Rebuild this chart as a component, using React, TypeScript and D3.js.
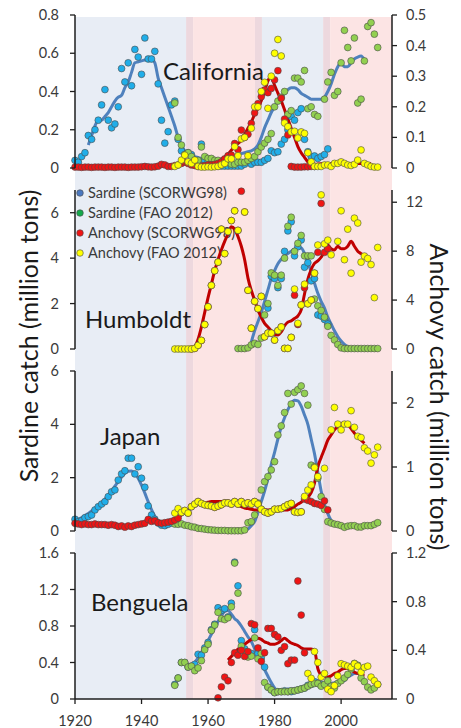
import React from "react";
import * as d3 from "d3";

// ---------- axis / regime data ----------
const YEAR_MIN = 1920;
const YEAR_MAX = 2015.3;
const xTickYears = [1920, 1940, 1960, 1980, 2000];
// [start, end, kind]
const regimeBands: [number, number, string][] = [
  [1920, 1953.4, "blue"],
  [1953.4, 1955.5, "mix"],
  [1955.5, 1974.1, "pink"],
  [1974.1, 1976.2, "mix"],
  [1976.2, 1994.6, "blue"],
  [1994.6, 1996.7, "mix"],
  [1996.7, 2015.3, "pink"],
];
const legendLabels = ["Sardine (SCORWG98)", "Sardine (FAO 2012)", "Anchovy (SCORWG98)", "Anchovy (FAO 2012)"];

// ---------- California ----------
const calSarScorStart = 1920;
const calSarScor = [
  0.04, 0.03, 0.06, 0.08, 0.17, 0.15, 0.2, 0.25, 0.33, 0.41,
  0.25, 0.21, 0.23, 0.32, 0.52, 0.45, 0.55, 0.43, 0.62, 0.58,
  0.49, 0.68, 0.57, 0.57, 0.61, 0.44, 0.25, 0.13, 0.19, 0.33,
  0.35, 0.15, 0.09, 0.07, 0.08, 0.07, 0.03, 0.03, 0.125, 0.04,
  0.03, 0.02, 0.02, 0.01, 0.01, 0.01, 0.01, 0.01, 0.01, 0.01,
  0.01, 0.02, 0.04, 0.02, 0.03, 0.03, 0.03, 0.04, 0.05, 0.09,
  0.08, 0.085, 0.125, 0.15, 0.2, 0.27, 0.25, 0.29, 0.31, 0.15,
  0.085, 0.06, 0.063, 0.05, 0.06, 0.07, 0.1,
];
const calSarFaoStart = 1950;
const calSarFao = [
  0.34, 0.16, 0.12, 0.07, 0.08, 0.06, 0.04, 0.04, 0.11, 0.06,
  0.05, 0.05, 0.04, 0.04, 0.03, 0.03, 0.03, 0.02, 0.02, 0.03,
  0.03, 0.03, 0.04, 0.05, 0.06, 0.085, 0.11, 0.13, 0.15, 0.18,
  0.32, 0.35, 0.37, 0.4, 0.28, 0.3, 0.47, 0.47, 0.45, 0.51,
  0.31, 0.32, 0.28, 0.27, null, 0.36, 0.45, 0.5, 0.38, 0.4,
  0.55, 0.72, 0.63, 0.56, 0.68, 0.34, 0.36, 0.56, 0.74, 0.76, 0.7, 0.63,
];
const calAncScorStart = 1920;
const calAncScor = [
  0.003, 0.003, 0.002, 0.003, 0.003, 0.002, 0.003, 0.003, 0.003, 0.002,
  0.003, 0.003, 0.002, 0.003, 0.003, 0.003, 0.002, 0.003, 0.003, 0.003,
  0.004, 0.005, 0.004, 0.003, 0.004, 0.006, 0.012, 0.01, 0.005, 0.005,
  0.008, 0.01, 0.015, 0.02, 0.015, 0.01, 0.008, 0.005, 0.006, 0.008,
  0.01, 0.01, 0.012, 0.015, 0.02, 0.03, 0.04, 0.042, 0.08, 0.06,
  0.124, 0.1, 0.11, 0.146, 0.18, 0.21, 0.233, 0.255, 0.246, 0.26,
  0.288, 0.318, 0.228, 0.16, 0.108, 0.005, 0.003, 0.003, 0.003, 0.004,
  0.004, 0.005, 0.005,
];
const calAncFaoStart = 1950;
const calAncFao = [
  0.005, 0.01, 0.026, 0.042, 0.02, 0.015, 0.026, 0.005, 0.003, 0.003,
  0.004, 0.003, 0.004, 0.005, 0.01, 0.015, 0.03, 0.03, 0.07, 0.04,
  0.095, 0.1, 0.04, 0.13, 0.2, 0.2, 0.25, 0.28, 0.195, 0.3,
  0.375, 0.42, 0.366, 0.147, 0.135, 0.118, 0.12, 0.098, 0.118, 0.113,
  0.05, 0.02, 0.005, 0.005, 0.005, 0.01, 0.01, 0.005, 0.015, 0.015,
  0.02, 0.015, 0.01, 0.008, 0.012, 0.026, 0.059, 0.015, 0.01, 0.005, 0.003, 0.003,
];
const calSarLineStart = 1924;
const calSarLine = [
  0.12, 0.17, 0.22, 0.25, 0.25, 0.27,
  0.29, 0.32, 0.35, 0.37, 0.38, 0.42, 0.45, 0.5, 0.55, 0.555,
  0.56, 0.565, 0.57, 0.57, 0.55, 0.47, 0.42, 0.37, 0.32, 0.27,
  0.22, 0.16, 0.12, 0.09, 0.07, 0.065, 0.06, 0.055, 0.05, 0.05,
  0.045, 0.04, 0.04, 0.04, 0.045, 0.05, 0.055, 0.06, 0.065, 0.07,
  0.075, 0.08, 0.085, 0.09, 0.1, 0.12, 0.16, 0.21, 0.25, 0.29,
  0.32, 0.35, 0.37, 0.39, 0.41, 0.42, 0.42, 0.41, 0.39, 0.38,
  0.37, 0.36, 0.36, 0.36, 0.36, 0.37, 0.4, 0.44, 0.49, 0.53,
  0.55, 0.53, 0.53, 0.55, 0.57, 0.58, 0.585, 0.565,
];
const calAncLineStart = 1920;
const calAncLine = [
  0.002, 0.002, 0.002, 0.002, 0.002, 0.002, 0.002, 0.002, 0.002, 0.002,
  0.002, 0.002, 0.002, 0.002, 0.002, 0.002, 0.002, 0.002, 0.002, 0.002,
  0.002, 0.002, 0.002, 0.002, 0.002, 0.003, 0.005, 0.006, 0.006, 0.006,
  0.008, 0.01, 0.012, 0.013, 0.013, 0.012, 0.01, 0.01, 0.01, 0.011,
  0.013, 0.016, 0.02, 0.025, 0.03, 0.035, 0.045, 0.058, 0.07, 0.08,
  0.09, 0.11, 0.13, 0.15, 0.175, 0.195, 0.22, 0.25, 0.285, 0.297,
  0.27, 0.245, 0.22, 0.19, 0.16, 0.13, 0.1, 0.07, 0.05, 0.035,
  0.02, 0.014, 0.012, 0.013, 0.014, 0.015, 0.015, 0.015, 0.015, 0.015,
  0.015, 0.015, 0.015, 0.015, 0.015, 0.015, 0.015, 0.015, 0.015, 0.015,
];

// ---------- Humboldt ----------
const humSarScorStart = 1978;
const humSarScor = [1.8, 3.2, 3.1, 2.7, 3.1, 4.3, 5.2, 5.6, 4.1, 4.5, 4.8, 3.6, 3.8, 3.0, 3.1, 1.5, 1.45, 1.3, 1.1];
const humSarFaoStart = 1969;
const humSarFao = [
  0.02, 0.02, 0.02, 0.05, 0.18, 0.25, 0.2, 0.48, 1.5, 2.0,
  3.35, 3.25, 2.8, 3.25, 4.0, 5.4, 5.8, 4.3, 4.65, 5.0,
  4.1, 4.1, 4.1, 2.2, 1.9, 1.7, 1.4, 1.0, 0.6, 0.4,
  0.2, 0.05, 0.02, 0.02, 0.02, 0.02, 0.02, 0.02, 0.02, 0.02, 0.02, 0.02, 0.02,
];
const humAncScorStart = 1955;
const humAncScor = [
  0, 0.05, 0.3, 0.7, 2.0, 3.45, 5.2, 6.4, 7.1, 9.8,
  7.8, 9.6, 10.5, 11.3, 9.7, 12.9, 11.2, 4.8, 1.7, 3.9,
  3.3, 4.3, 1.0, 1.3, 1.3, 0.73, 1.5, 1.8, 0.05, 0.05,
  0.95, 4.4, 2.0, 3.6, 5.0, 3.7, 4.0, 6.2, 7.9, 11.9, 7.9, 8.2,
];
const humAncFaoStart = 1950;
const humAncFao = [
  0, 0, 0, 0, 0, 0, 0.05, 0.3, 0.7, 2.0,
  3.45, 5.2, 6.4, 7.1, 9.8, 7.8, 9.6, 10.5, 11.3, 9.7,
  null, 11.2, 4.8, 1.7, 3.9, 3.3, 4.3, 1.0, 1.3, 1.3,
  0.73, 1.5, 1.8, 0.05, 0.05, 0.95, 4.9, 2.1, 3.6, 5.3,
  3.7, 4.0, 6.2, 8.5, 12.6, 8.6, 8.9, 7.7, null, 8.8,
  11.3, 7.3, 9.8, 6.2, 10.7, 10.3, 7.1, 7.6, 7.4, 6.9, 4.2, 8.3,
];
const humSarLineStart = 1973;
const humSarLine = [
  0.3, 0.8, 1.2, 1.6, 2.1, 2.6, 3.1, 3.45, 3.75, 3.95,
  4.1, 4.2, 4.3, 4.4, 4.45, 4.45, 4.2, 3.8, 3.4, 2.9,
  2.45, 2.1, 1.8, 1.4, 1.1, 0.8, 0.55, 0.35, 0.2, 0.1, 0.03,
];
const humAncLineStart = 1955;
const humAncLine = [
  0.05, 0.2, 0.8, 1.8, 3.0, 4.2, 5.3, 6.4, 7.3, 8.1,
  8.8, 9.4, 10.0, 9.8, 9.2, 8.4, 7.3, 5.8, 4.8, 4.0,
  3.2, 2.6, 2.1, 1.8, 1.5, 1.2, 1.15, 1.4, 1.9, 2.2,
  2.3, 2.5, 2.7, 3.2, 4.5, 5.7, 6.5, 7.0, 7.2, 7.5,
  8.0, 8.5, 8.2, 8.1, 8.4, 8.2, 8.2, 8.4, 8.8, 8.4, 8.0, 7.8, 7.6,
];

// ---------- Japan ----------
const japSarScorStart = 1920;
const japSarScor = [
  0.44, 0.35, 0.39, 0.5, 0.54, 0.6, 0.79, 0.91, 1.01, 1.1,
  1.29, 1.47, 1.54, 1.91, 2.14, 2.26, 2.73, 2.73, 2.14, 2.41,
  1.98, 1.64, 0.94, 0.6, 0.44, 0.3, 0.22, 0.2, 0.25, 0.3, 0.33, 0.3,
];
const japSarFaoStart = 1950;
const japSarFao = [
  0.26, 0.25, 0.27, 0.22, 0.2, 0.16, 0.14, 0.1, 0.09, 0.07,
  0.05, 0.04, 0.03, 0.02, 0.02, 0.02, 0.01, 0.01, 0.01, 0.01,
  0.01, 0.04, 0.31, 0.35, 0.6, 1.05, 1.54, 1.85, 2.04, 2.29,
  2.6, 3.6, 3.94, 4.44, 5.16, 4.76, 5.2, 5.3, 5.44, 5.16,
  4.72, 2.47, 2.41, 1.98, 1.29, 0.81, 0.35, 0.3, 0.26, 0.24,
  0.2, 0.14, 0.18, 0.2, 0.2, 0.15, 0.15, 0.2, 0.2, 0.2, 0.25, 0.31,
];
const japAncScorStart = 1920;
const japAncScor = [
  0.12, 0.11, 0.1, 0.11, 0.1, 0.1, 0.11, 0.1, 0.1, 0.1,
  0.09, 0.1, 0.09, 0.07, 0.08, 0.06, 0.08, 0.07, 0.09, 0.1,
  0.11, 0.12, 0.18, 0.15, 0.16, 0.13, 0.12, 0.13, 0.14, 0.15,
  0.17, 0.2, 0.29, 0.32, 0.28, 0.38, 0.42, 0.46, 0.43, 0.41,
  0.4, 0.39, 0.37, 0.39, 0.41, 0.44, 0.44, 0.42, 0.46, 0.42,
  0.46, 0.42, 0.44, 0.42, 0.46, 0.42, 0.34, 0.3, 0.28, 0.3,
  0.34, 0.34, 0.35, 0.38, 0.41, 0.43, 0.3, 0.29, 0.3, 0.5,
  0.48, 0.46, 0.43, 0.42, 0.4, 0.47, 0.33,
];
const japAncFaoStart = 1950;
const japAncFao = [
  0.28, 0.35, 0.29, 0.32, 0.28, 0.38, 0.42, 0.46, 0.43, 0.41,
  0.4, 0.39, 0.37, 0.39, 0.41, 0.44, 0.44, 0.42, 0.46, 0.42,
  0.46, 0.42, 0.44, 0.42, 0.46, 0.42, 0.34, 0.3, 0.28, 0.3,
  0.34, 0.34, 0.35, 0.38, 0.41, 0.43, 0.3, 0.29, 0.3, 0.54,
  0.64, 0.72, 0.99, 0.85, null, 0.98, null, 1.58, 1.93, 1.67,
  1.58, 1.67, 1.67, 1.88, 1.62, 1.48, 1.46, 1.3, 1.25, 1.06, 1.19, 1.31,
];
const japSarLineStart = 1920;
const japSarLine = [
  0.4, 0.45, 0.5, 0.58, 0.66, 0.75, 0.85, 0.95, 1.07, 1.2,
  1.35, 1.5, 1.68, 1.85, 2.02, 2.16, 2.24, 2.25, 2.17, 1.98,
  1.72, 1.42, 1.1, 0.8, 0.55, 0.35, 0.25, 0.2, null, null,
  null, null, null, null, null, null, null, null, null, null,
  null, null, null, null, null, null, null, null, null, null,
  0.0, 0.02, 0.07, 0.2, 0.35, 0.7, 1.1, 1.5, 1.95, 2.5,
  2.95, 3.45, 3.9, 4.25, 4.55, 4.78, 4.9, 4.88, 4.68, 4.35,
  4.0, 3.45, 2.9, 2.2, 1.5, 1.0, 0.65, 0.4, 0.3,
];
const japAncLineStart = 1920;
const japAncLine = [
  0.12, 0.11, 0.105, 0.105, 0.105, 0.105, 0.105, 0.1, 0.1, 0.1,
  0.095, 0.09, 0.085, 0.08, 0.08, 0.08, 0.08, 0.085, 0.09, 0.1,
  0.12, 0.14, 0.15, 0.15, 0.14, 0.13, 0.13, 0.14, 0.15, 0.16,
  0.18, 0.21, 0.25, 0.29, 0.33, 0.37, 0.4, 0.42, 0.43, 0.44,
  0.45, 0.46, 0.46, 0.46, 0.46, 0.46, 0.46, 0.44, 0.42, 0.4,
  0.38, 0.36, 0.35, 0.34, 0.33, 0.33, 0.33, 0.33, 0.33, 0.33,
  0.33, 0.33, 0.33, 0.33, 0.33, 0.35, 0.38, 0.42, 0.45, 0.5,
  0.53, 0.6, 0.75, 1.0, 1.15, 1.28, 1.42, 1.5, 1.58, 1.63,
  1.67, 1.69, 1.66, 1.6, 1.53, 1.47, 1.42, 1.37,
];

// ---------- Benguela ----------
const benSarScorStart = 1950;
const benSarScor = [
  0.16, 0.23, 0.4, 0.4, 0.35, 0.36, 0.38, 0.49, 0.48, 0.56,
  0.62, 0.76, 0.82, 1.0, 0.97, 0.99, 0.9, 1.05, 1.5, 1.24,
  0.64, 0.55, 0.5, 0.5, 0.76, 0.5, 0.45, 0.35, 0.13, 0.1,
  0.07, 0.08, 0.08, 0.09, 0.08, 0.08, 0.09, 0.1, 0.11, 0.12,
  0.15, 0.16, 0.19, 0.17,
];
const benSarFaoStart = 1950;
const benSarFao = [
  0.15, 0.23, 0.4, 0.4, 0.35, 0.36, 0.31, 0.34, 0.42, 0.54,
  0.6, 0.75, 0.81, 0.95, 0.88, 0.87, 0.89, 1.01, 1.49, 1.16,
  0.58, 0.52, 0.46, 0.47, 0.67, 0.44, 0.5, 0.18, 0.13, 0.1,
  0.07, 0.08, 0.08, 0.08, 0.08, 0.09, 0.09, 0.1, 0.11, 0.12,
  0.14, 0.16, 0.17, 0.17, 0.14, 0.16, 0.2, 0.14, 0.12, 0.17,
  0.2, 0.23, 0.27, 0.33, 0.39, 0.37, 0.23, 0.19, 0.13, 0.1, 0.12, 0.16,
];
const benAncScorStart = 1963;
const benAncScor = [
  0.01, 0.1, 0.18, 0.15, 0.3, 0.38, 0.36, 0.4, 0.35, 0.39,
  0.62, 0.61, 0.42, 0.31, 0.38, 0.58, 0.58, 0.53, 0.51, 0.4,
  0.43, 0.29, 0.32, 0.32, 0.97, 0.69, 0.38,
];
const benAncFaoStart = 1990;
const benAncFao = [
  0.21, 0.17, 0.39, 0.3, 0.18, 0.21, 0.08, 0.06, 0.11, 0.19,
  0.29, 0.28, 0.27, 0.26, 0.29, 0.27, 0.22, 0.26, 0.27, 0.18, 0.15, 0.12,
];
const benSarLineStart = 1955;
const benSarLine = [
  0.36, 0.4, 0.45, 0.51, 0.57, 0.64, 0.71, 0.78, 0.85, 0.91,
  0.96, 0.97, 0.93, 0.88, 0.85, 0.8, 0.74, 0.68, 0.63, 0.55,
  0.47, 0.39, 0.32, 0.25, 0.18, 0.12, 0.09, 0.1, 0.1, 0.11,
  0.11, 0.1, 0.1, 0.11, 0.12, 0.13, 0.15, 0.17, 0.2, 0.19,
  0.17, 0.17, 0.17, 0.18, 0.19, 0.19, 0.2, 0.24, 0.26, 0.28, 0.28,
];
const benAncLineStart = 1966;
const benAncLine = [
  0.32, 0.35, 0.38, 0.41, 0.43, 0.45, 0.47, 0.49, 0.5, 0.5,
  0.49, 0.47, 0.46, 0.45, 0.45, 0.46, 0.48, 0.5, 0.48, 0.46,
  0.45, 0.44, 0.42, 0.41, 0.41, 0.41, 0.4, 0.25, 0.2, 0.19,
  0.18, 0.19, 0.21, 0.22, 0.24, 0.25, 0.25, 0.24, 0.22, 0.21, 0.2, 0.19,
];

// ---------- helpers ----------
type Pt = { year: number; value: number | null };
const mk = (start: number, vals: (number | null)[]): Pt[] => vals.map((v, i) => ({ year: start + i, value: v }));

const FONT = "Lato, 'Open Sans', sans-serif";
const TXT = "#3a3a3a";
const AXIS = "#1e1e1e";
const COL = {
  sarScor: "#20aee9",
  sarFao: "#92d050",
  ancScor: "#f01414",
  ancFao: "#ffff00",
  sarLine: "#4f81bd",
  ancLine: "#c00000",
  legSarScor: "#4a78c0",
  legSarFao: "#14a84a",
  bgBlue: "#e8edf5",
  bgPink: "#fce4e4",
  bgMix: "#edd8de",
};

const panels = [
  {
    name: "California", top: 15, bottom: 168, leftMax: 0.8, leftTicks: [0, 0.2, 0.4, 0.6, 0.8],
    rightMax: 0.5, rightTicks: [0, 0.1, 0.2, 0.3, 0.4, 0.5], labelX: 163, labelY: 80,
    sarScor: mk(calSarScorStart, calSarScor), sarFao: mk(calSarFaoStart, calSarFao),
    ancScor: mk(calAncScorStart, calAncScor), ancFao: mk(calAncFaoStart, calAncFao),
    sarLine: mk(calSarLineStart, calSarLine), ancLine: mk(calAncLineStart, calAncLine),
  },
  {
    name: "Humboldt", top: 190, bottom: 349, leftMax: 7, leftTicks: [0, 2, 4, 6],
    rightMax: 13, rightTicks: [0, 4, 8, 12], labelX: 85, labelY: 328,
    sarScor: mk(humSarScorStart, humSarScor), sarFao: mk(humSarFaoStart, humSarFao),
    ancScor: mk(humAncScorStart, humAncScor), ancFao: mk(humAncFaoStart, humAncFao),
    sarLine: mk(humSarLineStart, humSarLine), ancLine: mk(humAncLineStart, humAncLine),
  },
  {
    name: "Japan", top: 371, bottom: 531, leftMax: 6, leftTicks: [0, 2, 4, 6],
    rightMax: 2.5, rightTicks: [0, 1, 2], labelX: 100, labelY: 445,
    sarScor: mk(japSarScorStart, japSarScor), sarFao: mk(japSarFaoStart, japSarFao),
    ancScor: mk(japAncScorStart, japAncScor), ancFao: mk(japAncFaoStart, japAncFao),
    sarLine: mk(japSarLineStart, japSarLine), ancLine: mk(japAncLineStart, japAncLine),
  },
  {
    name: "Benguela", top: 553, bottom: 699, leftMax: 1.6, leftTicks: [0, 0.4, 0.8, 1.2, 1.6],
    rightMax: 1.2, rightTicks: [0, 0.4, 0.8, 1.2], labelX: 91, labelY: 611,
    sarScor: mk(benSarScorStart, benSarScor), sarFao: mk(benSarFaoStart, benSarFao),
    ancScor: mk(benAncScorStart, benAncScor), ancFao: mk(benAncFaoStart, benAncFao),
    sarLine: mk(benSarLineStart, benSarLine), ancLine: mk(benAncLineStart, benAncLine),
  },
];

const fmt = (v: number) => String(+v.toFixed(2));

export default function App() {
  const W = 461, H = 728;
  const X0 = 75, X1 = 392;
  const BG_TOP = 17, BG_BOT = 699;
  const x = d3.scaleLinear().domain([YEAR_MIN, YEAR_MAX]).range([X0, X1]);

  const bgColor = (k: string) => (k === "blue" ? COL.bgBlue : k === "pink" ? COL.bgPink : COL.bgMix);

  const dots = (data: Pt[], y: d3.ScaleLinear<number, number>, fill: string, key: string) =>
    data.filter((d) => d.value !== null).map((d, i) => (
      <circle key={key + i} cx={x(d.year)} cy={y(d.value as number)} r={3.4}
        fill={fill} stroke="#4a4a4a" strokeWidth={0.6} />
    ));

  return (
    <svg width={W} height={H} style={{ position: "absolute", left: 0, top: 0, background: "#fff" }}
      fontFamily={FONT}>
      {/* regime background */}
      {regimeBands.map(([a, b, k], i) => (
        <rect key={"bg" + i} x={x(a)} y={BG_TOP} width={x(b) - x(a)} height={BG_BOT - BG_TOP} fill={bgColor(k)} />
      ))}

      {/* legend (behind the data) */}
      {legendLabels.map((t, i) => {
        const fills = [COL.legSarScor, COL.legSarFao, COL.ancScor, COL.ancFao];
        const ly = 193 + i * 20;
        return (
          <g key={"lg" + i}>
            <circle cx={80} cy={ly} r={3.3} fill={fills[i]} stroke="#4a4a4a" strokeWidth={0.6} />
            <text x={88} y={ly + 5} fontSize={14.5} fill={TXT}>{t}</text>
          </g>
        );
      })}

      {panels.map((p) => {
        const yL = d3.scaleLinear().domain([0, p.leftMax]).range([p.bottom, p.top]);
        const yR = d3.scaleLinear().domain([0, p.rightMax]).range([p.bottom, p.top]);
        const sarLineGen = d3.line<Pt>().defined((d) => d.value !== null)
          .x((d) => x(d.year)).y((d) => yL(d.value as number)).curve(d3.curveMonotoneX);
        const ancLineGen = d3.line<Pt>().defined((d) => d.value !== null)
          .x((d) => x(d.year)).y((d) => yR(d.value as number)).curve(d3.curveMonotoneX);
        return (
          <g key={p.name}>
            <text x={p.labelX} y={p.labelY} fontSize={24} fill="#1a1a1a">{p.name}</text>
            <path d={sarLineGen(p.sarLine) || ""} fill="none" stroke={COL.sarLine} strokeWidth={3} strokeLinejoin="round" />
            <path d={ancLineGen(p.ancLine) || ""} fill="none" stroke={COL.ancLine} strokeWidth={3} strokeLinejoin="round" />
            {dots(p.sarScor, yL, COL.sarScor, p.name + "ss")}
            {dots(p.sarFao, yL, COL.sarFao, p.name + "sf")}
            {dots(p.ancScor, yR, COL.ancScor, p.name + "as")}
            {dots(p.ancFao, yR, COL.ancFao, p.name + "af")}

            {/* left axis */}
            <line x1={X0} x2={X0} y1={p.top} y2={p.bottom} stroke={AXIS} strokeWidth={1.5} />
            {p.leftTicks.map((t) => (
              <g key={"lt" + t}>
                <line x1={X0 - 5} x2={X0} y1={yL(t)} y2={yL(t)} stroke={AXIS} strokeWidth={1.3} />
                <text x={X0 - 16} y={yL(t)} dy="0.35em" textAnchor="end" fontSize={14.5} fill={TXT}>{fmt(t)}</text>
              </g>
            ))}
            {/* right axis */}
            <line x1={X1} x2={X1} y1={p.top} y2={p.bottom} stroke={AXIS} strokeWidth={1.5} />
            {p.rightTicks.map((t) => (
              <g key={"rt" + t}>
                <line x1={X1} x2={X1 + 5} y1={yR(t)} y2={yR(t)} stroke={AXIS} strokeWidth={1.3} />
                <text x={X1 + 14} y={yR(t)} dy="0.35em" textAnchor="start" fontSize={14.5} fill={TXT}>{fmt(t)}</text>
              </g>
            ))}
          </g>
        );
      })}

      {/* x axis */}
      <line x1={X0} x2={X1} y1={BG_BOT} y2={BG_BOT} stroke={AXIS} strokeWidth={1.5} />
      {xTickYears.map((yr) => (
        <g key={"xt" + yr}>
          <line x1={x(yr)} x2={x(yr)} y1={BG_BOT} y2={BG_BOT + 5} stroke={AXIS} strokeWidth={1.3} />
          <text x={x(yr)} y={726} textAnchor="middle" fontSize={14.5} fill={TXT}>{yr}</text>
        </g>
      ))}

      {/* axis titles */}
      <text transform="translate(38,336) rotate(-90)" textAnchor="middle" fontSize={25} fill="#1a1a1a">
        Sardine catch (million tons)
      </text>
      <text transform="translate(430,397) rotate(90)" textAnchor="middle" fontSize={25} fill="#1a1a1a">
        Anchovy catch (million tons)
      </text>
    </svg>
  );
}
